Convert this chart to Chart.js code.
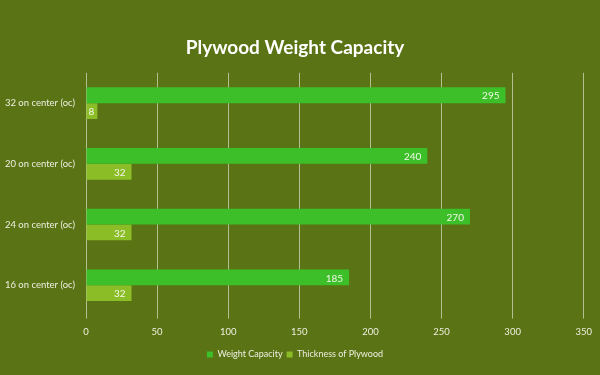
<!DOCTYPE html>
<html>
<head>
<meta charset="utf-8">
<script src="https://cdn.jsdelivr.net/npm/chart.js@4"></script>
<style>
html,body{margin:0;padding:0;background:#5a7314;}
#wrap{width:600px;height:375px;}
</style>
</head>
<body>
<div id="wrap"><canvas id="c" width="600" height="375"></canvas></div>
<script>
const categories = ["32 on center (oc)", "20 on center (oc)", "24 on center (oc)", "16 on center (oc)"];
const weightCapacity = [295, 240, 270, 185];
const thickness = [8, 32, 32, 32];
const xTicks = [0, 50, 100, 150, 200, 250, 300, 350];

const labelPlugin = {
  id: 'insideEndLabels',
  afterDatasetsDraw(chart) {
    const ctx = chart.ctx;
    ctx.save();
    ctx.font = '10px Lato, "Open Sans", sans-serif';
    ctx.fillStyle = '#f4f7e8';
    ctx.textAlign = 'right';
    ctx.textBaseline = 'middle';
    chart.data.datasets.forEach((ds, i) => {
      const meta = chart.getDatasetMeta(i);
      meta.data.forEach((bar, j) => {
        const v = ds.data[j];
        const w = bar.x - bar.base;
        const x = w < 20 ? bar.x - 3 : bar.x - 6;
        ctx.fillText(String(v), x, bar.y + 1);
      });
    });
    ctx.restore();
  }
};

const bg = {
  id: 'bg',
  beforeDraw(chart) {
    const ctx = chart.ctx;
    ctx.save();
    ctx.fillStyle = '#5a7314';
    ctx.fillRect(0, 0, chart.width, chart.height);
    ctx.restore();
  }
};

new Chart(document.getElementById('c'), {
  type: 'bar',
  data: {
    labels: categories,
    datasets: [
      { label: 'Weight Capacity', data: weightCapacity, backgroundColor: '#3dbf29', borderWidth: 0 },
      { label: 'Thickness of Plywood', data: thickness, backgroundColor: '#8bbd27', borderWidth: 0 }
    ]
  },
  options: {
    indexAxis: 'y',
    responsive: false,
    animation: false,
    devicePixelRatio: 1,
    layout: { padding: { left: 0, right: 10, top: 0, bottom: 6 } },
    datasets: { bar: { categoryPercentage: 0.52, barPercentage: 1.0 } },
    plugins: {
      title: {
        display: true,
        text: 'Plywood Weight Capacity',
        color: '#ffffff',
        font: { family: 'Lato, "Open Sans", sans-serif', size: 19, weight: 'bold' },
        padding: { top: 36, bottom: 14 }
      },
      legend: {
        position: 'bottom',
        labels: {
          color: '#eef0e0',
          font: { family: 'Lato, "Open Sans", sans-serif', size: 9 },
          boxWidth: 6, boxHeight: 6, padding: 4
        }
      },
      tooltip: { enabled: false }
    },
    scales: {
      x: {
        min: 0, max: 350,
        afterBuildTicks(scale) { scale.ticks = xTicks.map(v => ({ value: v })); },
        grid: { color: '#b4c090', lineWidth: 1, drawTicks: true, tickLength: 3 },
        border: { display: false },
        ticks: { color: '#eef0e0', font: { family: 'Lato, "Open Sans", sans-serif', size: 9.5 }, padding: 8 }
      },
      y: {
        afterFit(scale) { scale.width = 86; },
        grid: { display: false },
        border: { display: false },
        ticks: { color: '#eef0e0', font: { family: 'Lato, "Open Sans", sans-serif', size: 9.5 }, padding: 3 }
      }
    }
  },
  plugins: [bg, labelPlugin]
});
</script>
</body>
</html>
